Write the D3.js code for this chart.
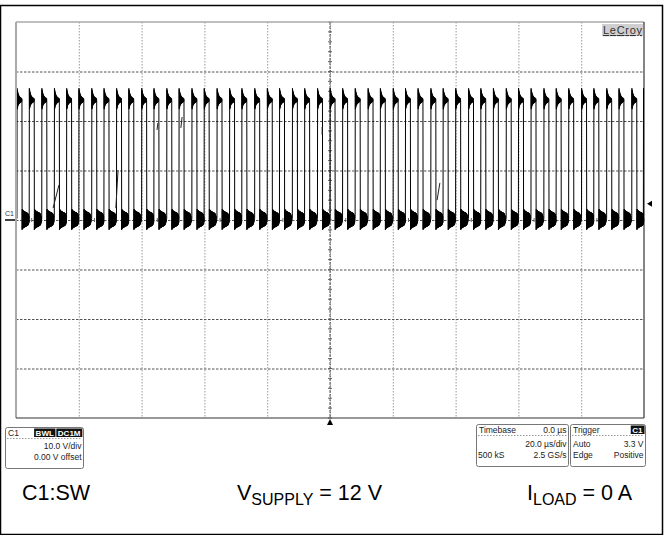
<!DOCTYPE html>
<html>
<head>
<meta charset="utf-8">
<script src="https://d3js.org/d3.v7.min.js"></script>
<style>
  body { margin: 0; background: #fff; }
  svg { display: block; font-family: "Liberation Sans", Arial, sans-serif; }
</style>
</head>
<body>
<div id="chart"></div>
<script>
// rising edge times of the SW node (us, trigger point = 0)
var edgeTimes = [-99.7, -95.8, -91.8, -87.8, -83.9, -80.0, -75.9, -72.0, -68.0, -64.1,
    -60.0, -56.1, -52.0, -48.1, -44.0, -40.1, -36.0, -32.0, -28.1, -24.0,
    -20.0, -16.1, -12.0, -8.1, -4.0, 0.0, 4.0, 8.0, 12.1, 16.0,
    20.1, 24.0, 28.0, 32.1, 36.0, 40.0, 44.1, 48.0, 52.0, 56.1,
    60.0, 64.0, 68.1, 72.0, 76.0, 80.1, 84.0, 88.1, 92.0, 96.1, 99.8];
// samples (V) every ringStep us after the rising edge, high part
var highRing = [26.6, 22.4, 26.2, 22.7, 25.9, 23.0, 25.6, 23.2, 25.4, 23.3, 25.2, 23.4,
    25.1, 23.5, 25.0, 23.6, 24.9, 23.6, 24.8, 23.7, 24.8, 23.7, 24.7, 23.8,
    24.7, 23.8, 24.6, 23.9, 24.6, 23.9, 24.5, 24.0];
// samples (V) every ringStep us after the falling edge, low part
var lowRing = [-2.0, 2.2, -1.8, 2.1, -1.7, 2.0, -1.7, 1.9, -1.6, 1.9, -1.6, 1.8,
    -1.5, 1.8, -1.5, 1.7, -1.5, 1.7, -1.4, 1.7, -1.4, 1.6, -1.4, 1.6,
    -1.3, 1.6, -1.3, 1.5, -1.3, 1.5, -1.2, 1.5, -1.2, 1.4, -1.2, 1.4,
    -1.1, 1.3, -1.0, 1.2, -0.9, 1.0, -0.7, 0.8, -0.5];
// stray slow-edge segments seen on a few pulses: [t1, v1, t2, v2]
var glitches = [[-88.2, 2.4, -86.3, 7.1], [-68.2, 2.4, -67.5, 10.1], [-55.1, 18.2, -54.8, 19.6],
    [-47.5, 18.6, -47.1, 20.8], [-2.5, 17.2, -2.5, 18.8], [34.1, 4.0, 35.0, 7.5]];
var ringStep = 0.05;   // us
var highTime = 1.65;   // us
var timeDivs = [-100, -80, -60, -40, -20, 0, 20, 40, 60, 80, 100];
var voltDivs = [-40, -30, -20, -10, 0, 10, 20, 30, 40];
var triggerLevel = 3.3;

var chBox = { name: 'C1', tags: ['BWL', 'DC1M'], rows: ['10.0 V/div', '0.00 V offset'] };
var tbBox = { head: ['Timebase', '0.0 \u00b5s'], rows: [['', '20.0 \u00b5s/div'], ['500 kS', '2.5 GS/s']] };
var trBox = { head: ['Trigger', 'C1'], rows: [['Auto', '3.3 V'], ['Edge', 'Positive']] };

var W = 669, H = 535;
var plot = { left: 16, right: 644, top: 22, bottom: 418 };

var svg = d3.select('#chart').append('svg').attr('width', W).attr('height', H);

var x = d3.scaleLinear().domain([timeDivs[0], timeDivs[timeDivs.length - 1]]).range([plot.left, plot.right]);
var y = d3.scaleLinear().domain([voltDivs[0], voltDivs[voltDivs.length - 1]]).range([plot.bottom, plot.top]);

// outer frame
svg.append('rect').attr('x', 0.5).attr('y', 5.5).attr('width', 662).attr('height', 529)
    .attr('fill', 'none').attr('stroke', '#000').attr('stroke-width', 1.5);

// grid
svg.append('g').selectAll('line').data(timeDivs.slice(1, -1)).join('line')
    .attr('x1', d => x(d) + 0.5).attr('x2', d => x(d) + 0.5)
    .attr('y1', plot.top).attr('y2', plot.bottom)
    .attr('stroke', '#999').attr('stroke-width', 1).attr('stroke-dasharray', '1.5,1.5');
svg.append('g').selectAll('line').data(voltDivs.slice(1, -1)).join('line')
    .attr('x1', plot.left).attr('x2', plot.right)
    .attr('y1', d => y(d) + 0.5).attr('y2', d => y(d) + 0.5)
    .attr('stroke', '#555').attr('stroke-width', 1).attr('stroke-dasharray', '2.5,1.5');

// center cross with minor ticks
var cx = x(0), cy = y(0);
svg.append('g').selectAll('line').data(y.ticks(40)).join('line')
    .attr('x1', cx - 2).attr('x2', cx + 2)
    .attr('y1', d => y(d)).attr('y2', d => y(d))
    .attr('stroke', '#666').attr('stroke-width', 1);
svg.append('g').selectAll('line').data(x.ticks(50)).join('line')
    .attr('x1', d => x(d)).attr('x2', d => x(d))
    .attr('y1', cy - 2).attr('y2', cy + 2)
    .attr('stroke', '#666').attr('stroke-width', 1);
svg.append('line').attr('x1', cx).attr('x2', cx).attr('y1', plot.top).attr('y2', plot.bottom)
    .attr('stroke', '#555').attr('stroke-width', 1).attr('stroke-dasharray', '3,1');

// plot frame
svg.append('line').attr('x1', plot.left).attr('x2', plot.right).attr('y1', plot.top).attr('y2', plot.top)
    .attr('stroke', '#aaa').attr('stroke-width', 1.5);
svg.append('line').attr('x1', plot.left).attr('x2', plot.left).attr('y1', plot.top).attr('y2', plot.bottom)
    .attr('stroke', '#aaa').attr('stroke-width', 2);
svg.append('line').attr('x1', plot.right).attr('x2', plot.right).attr('y1', plot.top).attr('y2', plot.bottom)
    .attr('stroke', '#333').attr('stroke-width', 1.2);
svg.append('line').attr('x1', plot.left).attr('x2', plot.right).attr('y1', plot.bottom).attr('y2', plot.bottom)
    .attr('stroke', '#333').attr('stroke-width', 1.2);

// LeCroy logo
svg.append('rect').attr('x', 602).attr('y', 24).attr('width', 41).attr('height', 12).attr('fill', '#cfcfcf');
svg.append('text').text('LeCroy').attr('x', 603).attr('y', 34).attr('font-size', 11)
    .attr('fill', '#333').attr('text-decoration', 'underline').attr('textLength', 39);

// trace
var pts = [[timeDivs[0], 0.3]];
edgeTimes.forEach(function (e, i) {
    var next = i < edgeTimes.length - 1 ? edgeTimes[i + 1] : timeDivs[timeDivs.length - 1] + 5;
    pts.push([e, 0.3]);
    highRing.forEach(function (v, k) { pts.push([e + (k + 1) * ringStep, v]); });
    lowRing.forEach(function (v, k) {
        var t = e + highTime + k * ringStep;
        if (t < next - 0.02) pts.push([t, v]);
    });
});
svg.append('clipPath').attr('id', 'clip').append('rect')
    .attr('x', plot.left + 1).attr('y', plot.top).attr('width', plot.right - plot.left - 1).attr('height', plot.bottom - plot.top);
svg.append('path').datum(pts)
    .attr('clip-path', 'url(#clip)')
    .attr('d', d3.line().x(d => x(d[0])).y(d => y(d[1])))
    .attr('fill', 'none').attr('stroke', '#000').attr('stroke-width', 1);
svg.append('g').selectAll('line').data(glitches).join('line')
    .attr('x1', d => x(d[0])).attr('y1', d => y(d[1]))
    .attr('x2', d => x(d[2])).attr('y2', d => y(d[3]))
    .attr('stroke', '#222').attr('stroke-width', 1);

// ground marker
svg.append('text').text('C1').attr('x', 5).attr('y', 216).attr('font-size', 7).attr('fill', '#333');
svg.append('line').attr('x1', 5).attr('x2', 15).attr('y1', cy).attr('y2', cy).attr('stroke', '#000').attr('stroke-width', 1.5);
// trigger level and trigger position markers
var ty = y(triggerLevel);
svg.append('path').attr('d', 'M' + (plot.right + 3) + ',' + ty + 'l5,-3v6z').attr('fill', '#000');
svg.append('path').attr('d', 'M' + cx + ',' + (plot.bottom + 1) + 'l-3,6h6z').attr('fill', '#000');

// info boxes
var fs = 8.5;
function box(x0, y0, w, h) {
    svg.append('rect').attr('x', x0 + 0.5).attr('y', y0 + 0.5).attr('width', w).attr('height', h)
        .attr('rx', 2).attr('fill', '#fff').attr('stroke', '#777');
    svg.append('line').attr('x1', x0 + 2).attr('x2', x0 + w - 1).attr('y1', y0 + 11.5).attr('y2', y0 + 11.5)
        .attr('stroke', '#999').attr('stroke-dasharray', '1.5,1.5');
}
function tag(label, xr, y0) {
    var t = svg.append('text').text(label).attr('x', xr - 1.5).attr('y', y0 + 8.5)
        .attr('text-anchor', 'end').attr('font-size', 8).attr('font-weight', 'bold').attr('fill', '#fff');
    var bb = t.node().getBBox();
    svg.insert('rect', function () { return t.node(); })
        .attr('x', bb.x - 1.5).attr('y', y0 + 1.5).attr('width', bb.width + 3).attr('height', 8.5).attr('fill', '#111');
    return bb.x - 2.5;
}
function txt(s, x0, y0, anchor) {
    svg.append('text').text(s).attr('x', x0).attr('y', y0).attr('font-size', fs)
        .attr('text-anchor', anchor).attr('fill', '#222');
}

// channel box
box(5, 427, 78, 41);
txt(chBox.name, 8, 435.5, 'start');
var xr = 82;
chBox.tags.slice().reverse().forEach(function (s) { xr = tag(s, xr, 427); });
chBox.rows.forEach(function (s, i) { txt(s, 81.5, 449 + i * 11, 'end'); });

// timebase box
box(476, 424, 92, 42);
txt(tbBox.head[0], 479, 433, 'start');
txt(tbBox.head[1], 566.5, 433, 'end');
tbBox.rows.forEach(function (r, i) {
    txt(r[0], 478, 447 + i * 10.5, 'start');
    txt(r[1], 566.5, 447 + i * 10.5, 'end');
});

// trigger box
box(570, 424, 75, 42);
txt(trBox.head[0], 573, 433, 'start');
tag(trBox.head[1], 644, 424);
trBox.rows.forEach(function (r, i) {
    txt(r[0], 573, 447 + i * 10.5, 'start');
    txt(r[1], 643.5, 447 + i * 10.5, 'end');
});

// captions
var cap = svg.append('g').attr('font-size', 21.5).attr('fill', '#000');
cap.append('text').attr('x', 22).attr('y', 500).text('C1:SW');
var t1 = cap.append('text').attr('x', 237).attr('y', 500);
t1.append('tspan').text('V');
t1.append('tspan').attr('font-size', 16).attr('dy', 5).text('SUPPLY');
t1.append('tspan').attr('dy', -5).text(' = 12 V');
var t2 = cap.append('text').attr('x', 527).attr('y', 500);
t2.append('tspan').text('I');
t2.append('tspan').attr('font-size', 16).attr('dy', 5).text('LOAD');
t2.append('tspan').attr('dy', -5).text(' = 0 A');
</script>
</body>
</html>
